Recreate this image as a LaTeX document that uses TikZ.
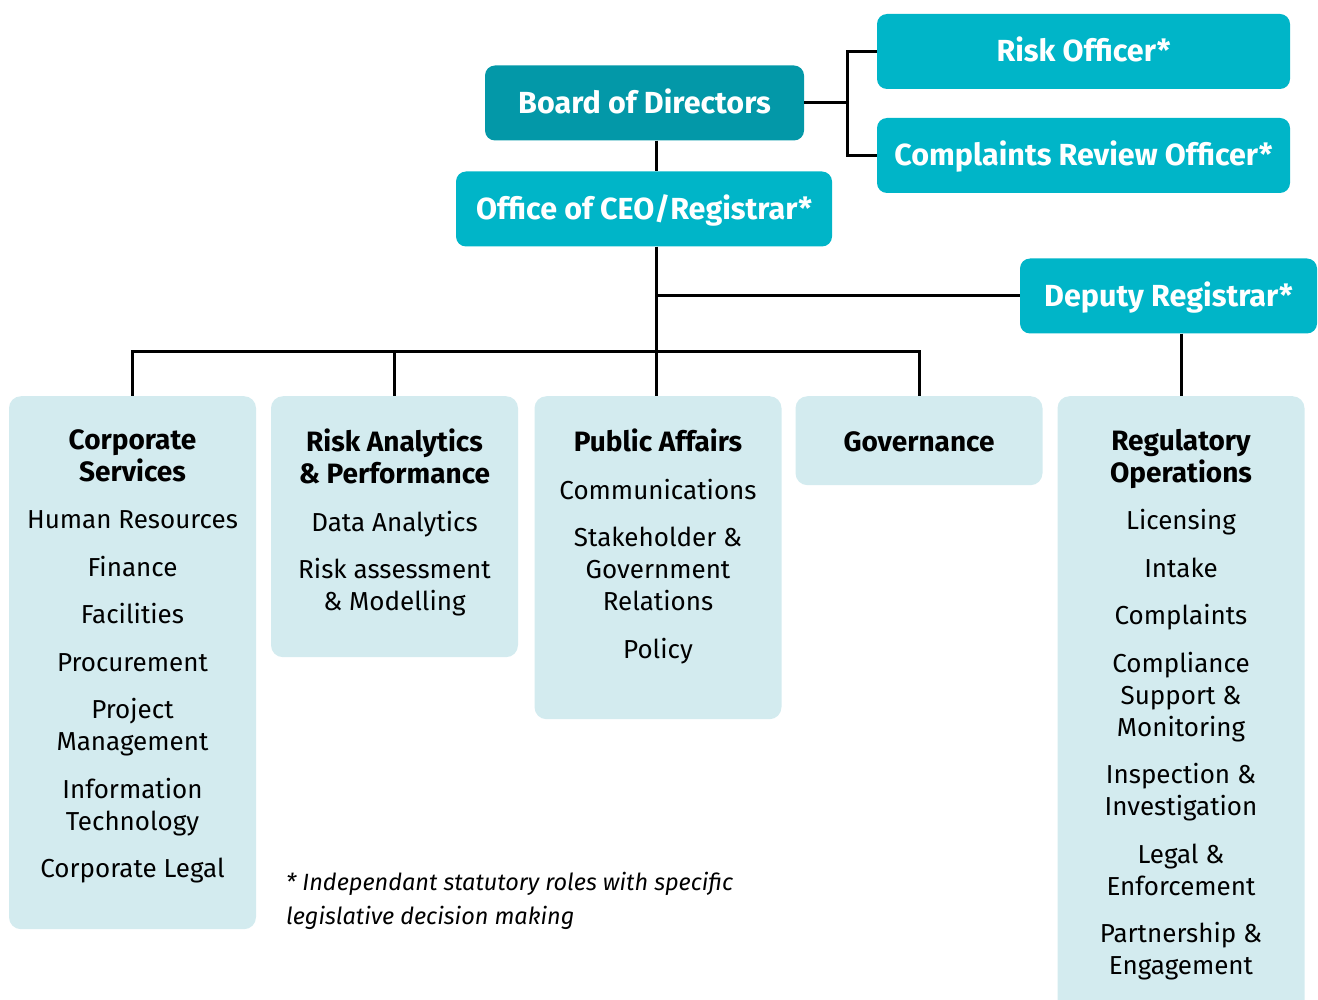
\documentclass[tikz,border=0pt]{standalone}
\usepackage{fontspec}
\setmainfont{Fira Sans}
\usetikzlibrary{positioning}
\definecolor{boardteal}{RGB}{3,152,168}
\definecolor{roleteal}{RGB}{0,181,200}
\definecolor{deptblue}{RGB}{211,235,239}
\newcommand{\depthead}[1]{{\fontsize{28}{32}\selectfont\bfseries #1}}

\begin{document}
\begin{tikzpicture}[
    x=1pt, y=-1pt,
    every node/.style={inner sep=0pt},
    topbox/.style={rectangle, rounded corners=10pt, fill=roleteal, text=white,
                   font=\fontsize{30.5}{34}\selectfont\bfseries,
                   minimum height=75pt, text height=21pt, text depth=0pt},
    boardbox/.style={topbox, fill=boardteal},
    dept/.style={rectangle, rounded corners=12pt, fill=deptblue,
                 minimum width=247pt, anchor=north},
    depttext/.style={anchor=north, align=center, font=\fontsize{26}{32}\selectfont,
                     execute at begin node=\strut},
    link/.style={draw=black, line width=3pt}
]
\useasboundingbox (0,0) rectangle (1318,1000);
\clip (0,0) rectangle (1318,1000);

% Top level
\node[boardbox, minimum width=319pt] (board) at (644.5,103) {Board of Directors};
\node[topbox, minimum width=413pt] (riskoff) at (1083.5,51.5) {Risk Officer*};
\node[topbox, minimum width=413pt] (cro) at (1083.5,155.5) {Complaints Review Officer*};
\node[topbox, minimum width=376pt] (ceo) at (644,209) {Office of CEO/Registrar*};
\node[topbox, minimum width=297pt] (deputy) at (1168.5,296) {Deputy Registrar*};

% Branches
\node[dept, minimum height=533pt] (corp) at (132.5,396) {};
\node[dept, minimum height=261pt] (rap) at (394.5,396) {};
\node[dept, minimum height=323pt] (pub) at (658,396) {};
\node[dept, minimum height=89pt] (gov) at (919,396) {};
\node[dept, minimum height=624pt] (reg) at (1181,396) {};

\node[depttext, below=33pt of corp.north] (corp-txt) {%
  \depthead{Corporate}\\\depthead{Services}\\[15.5pt]
  Human Resources\\[15.5pt]
  Finance\\[15.5pt]
  Facilities\\[15.5pt]
  Procurement\\[15.5pt]
  Project\\Management\\[15.5pt]
  Information\\Technology\\[15.5pt]
  Corporate Legal};
\node[depttext, below=33pt of rap.north] (rap-txt) {%
  \depthead{Risk Analytics}\\\depthead{\& Performance}\\[15.5pt]
  Data Analytics\\[15.5pt]
  Risk assessment\\\& Modelling};
\node[depttext, below=33pt of pub.north] (pub-txt) {%
  \depthead{Public Affairs}\\[15.5pt]
  Communications\\[15.5pt]
  Stakeholder \&\\Government\\Relations\\[15.5pt]
  Policy};
\node[depttext, below=33pt of gov.north] (gov-txt) {\depthead{Governance}};
\node[depttext, below=33pt of reg.north] (reg-txt) {%
  \depthead{Regulatory}\\\depthead{Operations}\\[15.5pt]
  Licensing\\[15.5pt]
  Intake\\[15.5pt]
  Complaints\\[15.5pt]
  Compliance\\Support \&\\Monitoring\\[15.5pt]
  Inspection \&\\Investigation\\[15.5pt]
  Legal \&\\Enforcement\\[15.5pt]
  Partnership \&\\Engagement};

% Footnote
\node[anchor=north west, align=left, font=\fontsize{23.5}{34}\selectfont\itshape]
  (note) at (286,872) {* Independant statutory roles with specific\\legislative decision making};

% Connectors
\coordinate (trunk) at (656,0);
\coordinate (split) at (847,0);
\coordinate (bus) at (0,352);

\draw[link] (board.east) -- (split |- board.east);
\draw[link] (riskoff.west) -- (split |- riskoff.west) -- (split |- cro.west) -- (cro.west);
\draw[link] (board.south -| trunk) -- (ceo.north -| trunk);
\draw[link] (ceo.south -| trunk) -- (pub.north -| trunk);
\draw[link] (trunk |- deputy.west) -- (deputy.west);
\draw[link] (corp.north) -- (corp.north |- bus) -- (gov.north |- bus) -- (gov.north);
\draw[link] (rap.north) -- (rap.north |- bus);
\draw[link] (reg.north |- deputy.south) -- (reg.north);

\end{tikzpicture}
\end{document}
